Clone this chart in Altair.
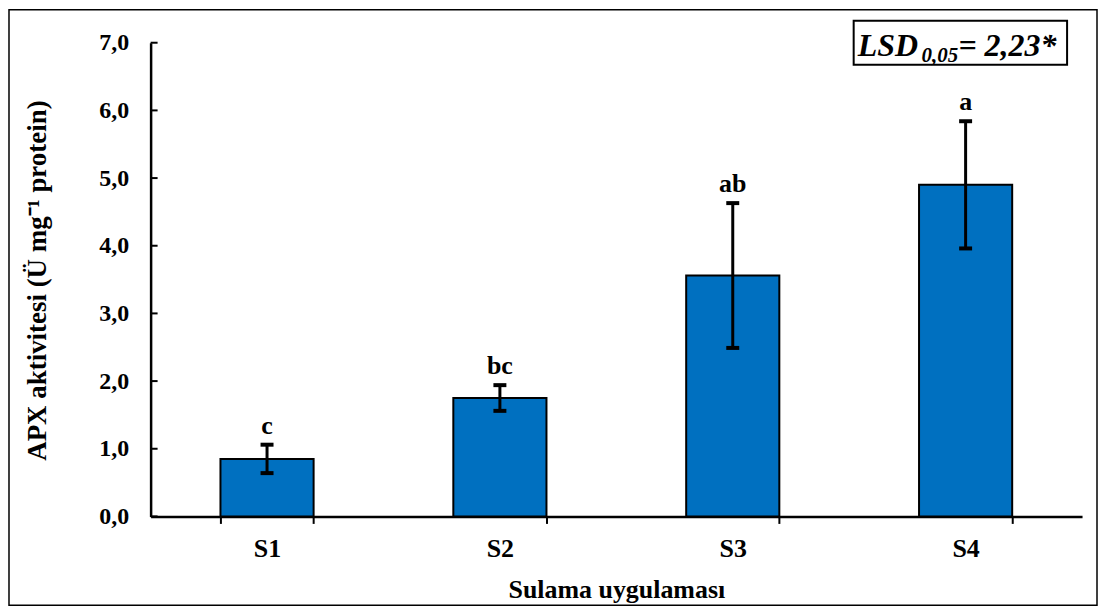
import altair as alt
import pandas as pd

categories = ["S1", "S2", "S3", "S4"]
means = [0.85, 1.75, 3.56, 4.90]
errors = [0.21, 0.19, 1.07, 0.94]
letters = ["c", "bc", "ab", "a"]
y_ticks = [0, 1, 2, 3, 4, 5, 6, 7]

FONT = "Liberation Serif"
W, H = 934, 475

df = pd.DataFrame({"cat": categories, "mean": means, "err": errors, "letter": letters})
df["lo"] = df["mean"] - df["err"]
df["hi"] = df["mean"] + df["err"]

yscale = alt.Scale(domain=[0, 7], nice=False, zero=True)
xscale = alt.Scale(paddingInner=0.6, paddingOuter=0.3)
YTITLE = "APX aktivitesi (Ü mg⁻¹ protein)"

xaxis = alt.Axis(
    title="Sulama uygulaması", labelAngle=0, labelFont=FONT, labelFontWeight="bold",
    labelFontSize=26, labelColor="black", labelPadding=12, tickBand="extent",
    tickSize=7, tickWidth=2, tickColor="black", domainColor="black", domainWidth=2.5,
    titleFont=FONT, titleFontWeight="bold", titleFontSize=26, titleColor="black",
    titleY=73, titleBaseline="middle",
)
yaxis = alt.Axis(
    title=YTITLE, values=y_ticks, labelExpr="replace(format(datum.value, '.1f'), '.', ',')",
    labelFont=FONT, labelFontWeight="bold", labelFontSize=24, labelColor="black",
    labelPadding=22, ticks=False, tickSize=0, domainColor="black", domainWidth=2.5,
    grid=False, titleFont=FONT, titleFontWeight="bold", titleFontSize=27, titleColor="black",
    titleX=-113, titleY=238, titleAngle=270, titleBaseline="middle", titleAlign="center",
)

X = alt.X("cat:N", sort=categories, scale=xscale, axis=xaxis)

base = alt.Chart(df)

frame = alt.Chart(pd.DataFrame({"k": [0]})).mark_rect(
    fill="white", fillOpacity=0, stroke="black", strokeWidth=1.5
).encode(x=alt.value(-142), x2=alt.value(949), y=alt.value(-33), y2=alt.value(564))

bars = base.mark_bar(fill="#0070C0", stroke="black", strokeWidth=2).encode(
    x=X, y=alt.Y("mean:Q", scale=yscale, axis=yaxis)
)
rules = base.mark_rule(color="black", strokeWidth=3, opacity=1).encode(
    x=X, y=alt.Y("lo:Q", scale=yscale, axis=yaxis), y2="hi:Q"
)
cap_hi = base.mark_tick(color="black", thickness=4, size=13, opacity=1).encode(
    x=X, y=alt.Y("hi:Q", scale=yscale, axis=yaxis)
)
cap_lo = base.mark_tick(color="black", thickness=4, size=13, opacity=1).encode(
    x=X, y=alt.Y("lo:Q", scale=yscale, axis=yaxis)
)
labels = base.mark_text(
    font=FONT, fontWeight="bold", fontSize=26, baseline="alphabetic", dy=-11, color="black"
).encode(x=X, y=alt.Y("hi:Q", scale=yscale, axis=yaxis), text="letter:N")

inner_ticks = alt.Chart(pd.DataFrame({"v": y_ticks})).mark_rule(
    color="black", strokeWidth=2
).encode(y=alt.Y("v:Q", scale=yscale, axis=yaxis), x=alt.value(0), x2=alt.value(7))

one = pd.DataFrame({"k": [0]})
lsd_box = alt.Chart(one).mark_rect(fill="white", stroke="black", strokeWidth=2).encode(
    x=alt.value(705), x2=alt.value(919), y=alt.value(-22), y2=alt.value(22)
)
lsd1 = alt.Chart(one).mark_text(
    font=FONT, fontWeight="bold", fontStyle="italic", fontSize=32, align="left",
    baseline="alphabetic", color="black"
).encode(x=alt.value(709), y=alt.value(13), text=alt.value("LSD"))
lsd2 = alt.Chart(one).mark_text(
    font=FONT, fontWeight="bold", fontStyle="italic", fontSize=21, align="left",
    baseline="alphabetic", color="black"
).encode(x=alt.value(773), y=alt.value(19), text=alt.value("0,05"))
lsd3 = alt.Chart(one).mark_text(
    font=FONT, fontWeight="bold", fontStyle="italic", fontSize=32, align="left",
    baseline="alphabetic", color="black"
).encode(x=alt.value(810), y=alt.value(13), text=alt.value("= 2,23*"))

chart = alt.layer(
    frame, bars, inner_ticks, rules, cap_hi, cap_lo, labels, lsd_box, lsd1, lsd2, lsd3
).properties(width=W, height=H, padding=0, background="white").configure_view(strokeWidth=0)

chart.save("out.html", embed_options={"renderer": "svg", "actions": False})
